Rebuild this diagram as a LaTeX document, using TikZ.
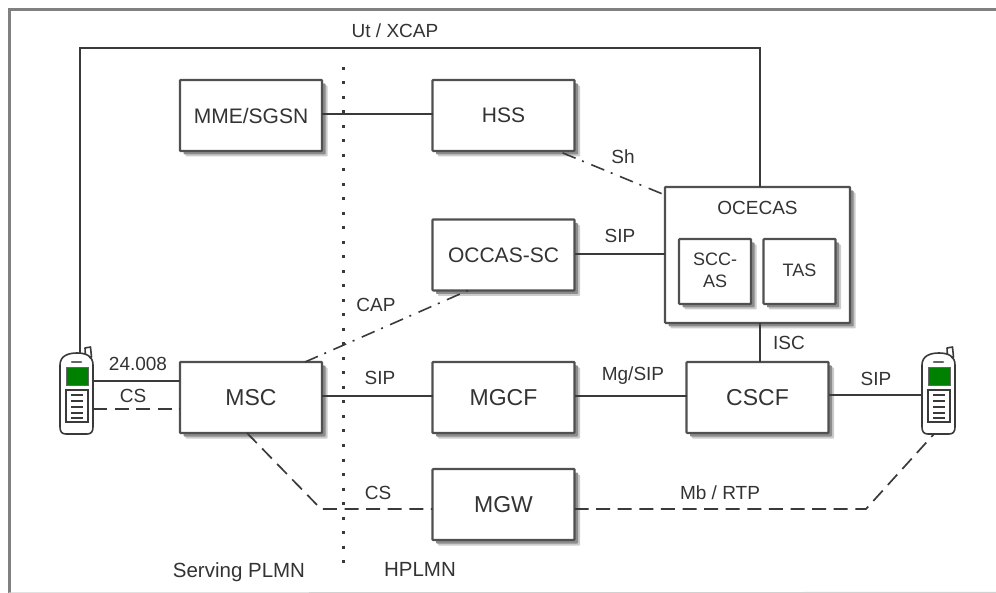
\documentclass[tikz,border=0pt]{standalone}
\usepackage{fontspec}
\setmainfont{Liberation Sans}
\usetikzlibrary{shadows,calc}
\definecolor{boxline}{HTML}{505050}
\definecolor{ink}{HTML}{3A3A3A}
\definecolor{txt}{HTML}{333333}
\tikzset{
  box/.style={draw=boxline,line width=2.2pt,fill=white,inner sep=0pt,outer sep=0pt,
    rounded corners=0.8pt,align=center,text=txt,
    drop shadow={shadow xshift=5.5pt,shadow yshift=-5.5pt,fill=black!20,opacity=1},
    drop shadow={shadow xshift=3.5pt,shadow yshift=-3.5pt,fill=black!45,opacity=1}},
  wide/.style={box,minimum width=142pt,minimum height=71pt},
  inner box/.style={box,minimum width=72pt,minimum height=65pt,font=\fontsize{18}{22}\selectfont},
  big/.style={font=\fontsize{21}{25}\selectfont},
  bigger/.style={font=\fontsize{23}{27}\selectfont},
  lab/.style={text=txt,inner sep=0pt,font=\fontsize{19}{22}\selectfont},
  conn/.style={draw=ink,line width=1.6pt},
  dashconn/.style={draw=ink,line width=1.7pt,dash pattern=on 14pt off 7.6pt},
  dotconn/.style={draw=ink,line width=1.6pt,dash pattern=on 14pt off 7pt on 2pt off 8pt},
  phoneline/.style={draw=ink,line width=1.6pt},
  phonenode/.style={inner sep=0pt,outer sep=0pt,minimum width=33pt,minimum height=81pt},
}
\newcommand{\phonepic}[3]{%
  \node[phonenode] (#1) at (#2+16.5,#3+40.5) {};
  \begin{scope}[shift={(#2,#3)}]
    \draw[phoneline,fill=white,line join=round] (25,-5) -- (30.5,-6) -- (31.5,4) -- (25.5,4) -- cycle;
    \draw[phoneline,fill=white,line join=round] (0,12) .. controls (0,3) and (8,0) .. (17,0)
      .. controls (26,0) and (33,3) .. (33,12) -- (33,74) .. controls (33,79) and (31,81) .. (27,81)
      -- (6,81) .. controls (2,81) and (0,79) .. (0,74) -- cycle;
    \draw[line width=2.6pt,draw=black!60,line cap=round] (12,9) -- (21,9);
    \fill[fill=black!60!white] (5.5,14.5) rectangle (28.5,33);
    \fill[fill=green!50!black] (6.5,15.5) rectangle (27.5,32);
    \draw[phoneline,fill=white] (6,37) rectangle (28,69);
    \foreach \yy in {42,48,54,60,65} \draw[draw=ink,line width=1.3pt] (11,\yy) -- (23,\yy);
  \end{scope}}
\begin{document}
\begin{tikzpicture}[x=1pt,y=-1pt]
\useasboundingbox (0,0) rectangle (996,593);
% frame
\draw[draw=black!50,line width=3pt] (996,10) coordinate (ftr) -- (9,10) coordinate (ftl) -- (9,593) coordinate (fbl);
\draw[draw=black!18,line width=1.2pt] (fbl) -- (996,592.5);
% boundary between networks
\coordinate (dotT) at (343,67);
\coordinate (dotB) at (343,570);
\draw[draw=ink,line width=3pt,dash pattern=on 3pt off 11.5pt] (dotT) -- (dotB);
% boxes
\node[wide,big] (mme) at (251,115.5) {MME/SGSN};
\node[wide,big] (hss) at (503.5,115.5) {HSS};
\node[wide,big] (occas) at (503.5,255) {OCCAS-SC};
\node[wide,bigger] (msc) at (251,397.5) {MSC};
\node[wide,bigger] (mgcf) at (503.5,397.5) {MGCF};
\node[wide,bigger] (mgw) at (503.5,504.5) {MGW};
\node[wide,bigger] (cscf) at (757.5,397.5) {CSCF};
\node[box,minimum width=185pt,minimum height=136pt] (ocecas) at (757.5,255) {};
\node[lab] (ocecaslab) at (757.5,208) {OCECAS};
\node[inner box] (scc) at (715,271.5) {\raisebox{2.5pt}{SCC-}\\\raisebox{2.5pt}{AS}};
\node[inner box] (tas) at (799.5,271.5) {\raisebox{2.5pt}{TAS}};
% phones
\phonepic{phoneL}{60}{353}
\phonepic{phoneR}{922}{353}
% connectors
\draw[conn] (phoneL.north -| 80,353) -- (80,48) coordinate (utA) -- (760,48) coordinate (utB) -- (ocecas.north -| utB);
\draw[conn] (mme.east |- 0,114) -- (hss.west |- 0,114);
\draw[dotconn,shorten <=5pt,shorten >=3pt] (hss.south -| 558,0) -- (ocecas.west |- 0,195);
\draw[conn] (occas.east |- 0,254) -- (ocecas.west |- 0,254);
\draw[dotconn] (msc.north -| 305,0) -- (occas.south -| 468,0);
\draw[conn] (phoneL.east |- 0,381) -- (msc.west |- 0,381);
\draw[dashconn] (phoneL.east |- 0,409) -- (msc.west |- 0,409);
\draw[conn] (msc.east |- 0,396) -- (mgcf.west |- 0,396);
\draw[conn] (mgcf.east |- 0,396) -- (cscf.west |- 0,396);
\draw[conn] (cscf.east |- 0,395) -- (phoneR.west |- 0,395);
\draw[conn] (ocecas.south -| 760,0) -- (cscf.north -| 760,0);
\draw[dashconn] (msc.south -| 247,0) -- (321,509) coordinate (csbend) -- (mgw.west |- csbend);
\draw[dashconn] (mgw.east |- 0,509) -- (866,509) coordinate (mbbend) -- (phoneR.south -| 934,0);
% labels
\node[lab] (lut) at (395,31) {Ut / XCAP};
\node[lab] (l24) at (138,364) {24.008};
\node[lab] (lcs1) at (133,396) {CS};
\node[lab] (lsh) at (623,157) {Sh};
\node[lab] (lsip1) at (620,236) {SIP};
\node[lab] (lcap) at (376,305) {CAP};
\node[lab] (lsip2) at (380,378) {SIP};
\node[lab] (lmg) at (633,376) {Mg/SIP};
\node[lab] (lisc) at (789,343) {ISC};
\node[lab] (lsip3) at (876,379) {SIP};
\node[lab] (lcs2) at (378,493) {CS};
\node[lab] (lmb) at (720,493) {Mb / RTP};
\node[lab,font=\fontsize{20.5}{24}\selectfont] (lsp) at (239,572) {Serving PLMN};
\node[lab,font=\fontsize{20.5}{24}\selectfont] (lhp) at (420,569) {HPLMN};
\end{tikzpicture}
\end{document}
